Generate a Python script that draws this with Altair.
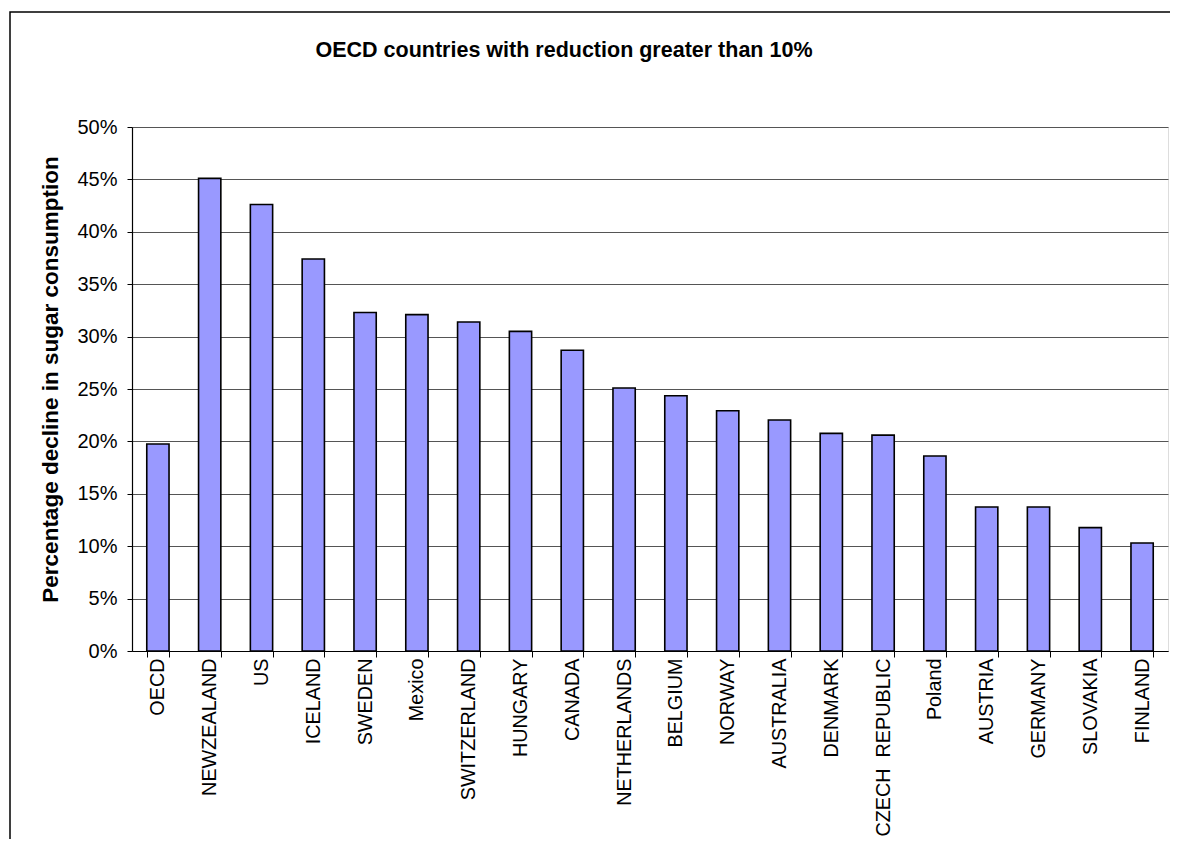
import altair as alt
import pandas as pd

countries = ["OECD", "NEWZEALAND", "US", "ICELAND", "SWEDEN", "Mexico", "SWITZERLAND",
             "HUNGARY", "CANADA", "NETHERLANDS", "BELGIUM", "NORWAY", "AUSTRALIA",
             "DENMARK", "CZECH\u00a0 REPUBLIC", "Poland", "AUSTRIA", "GERMANY",
             "SLOVAKIA", "FINLAND"]
decline = [0.1975, 0.451, 0.426, 0.374, 0.323, 0.321, 0.314, 0.305, 0.287, 0.251,
           0.2436, 0.2293, 0.2204, 0.2077, 0.206, 0.186, 0.1374, 0.1374, 0.1177, 0.103]
y_ticks = [0.0, 0.05, 0.10, 0.15, 0.20, 0.25, 0.30, 0.35, 0.40, 0.45, 0.50]

df = pd.DataFrame({"country": countries, "decline": decline})

FONT = "Liberation Sans"

bars = alt.Chart(df).mark_bar(
    fill="#9999FF", stroke="#000000", strokeWidth=1.6
).encode(
    x=alt.X("country:N", sort=countries,
            scale=alt.Scale(paddingInner=0.57, paddingOuter=0.285),
            axis=alt.Axis(title=None, labelAngle=270, labelFontSize=19.8, labelFont=FONT,
                          labelColor="#000000", labelPadding=1, tickSize=6,
                          tickColor="#000000", domainColor="#000000", domainWidth=1.2,
                          tickBand="extent", grid=False, labelOverlap=False,
                          labelLimit=400)),
    y=alt.Y("decline:Q",
            scale=alt.Scale(domain=[0, 0.5], nice=False),
            axis=alt.Axis(title="Percentage decline in sugar consumption",
                          values=y_ticks, format=".0%", labelFontSize=20, labelFont=FONT,
                          labelColor="#000000", labelPadding=10, tickSize=5,
                          tickColor="#000000", domainColor="#000000", domainWidth=1.2,
                          grid=True, gridColor="#555555", gridWidth=1,
                          titleFont=FONT, titleFontSize=22.5, titleFontWeight="bold",
                          titleColor="#000000", titleX=-82, titleY=252,
                          titleAngle=270, titleAlign="center", titleBaseline="middle")),
)

frame = alt.Chart(alt.Data(values=[{}])).mark_rect(
    fill="transparent", stroke="#000000", strokeWidth=1.5
).encode(
    x=alt.value(-122), x2=alt.value(1070), y=alt.value(-115), y2=alt.value(760)
)

chart = alt.layer(frame, bars).properties(
    width=1036,
    height=524,
    title=alt.TitleParams(
        "OECD countries with reduction greater than 10%",
        font=FONT, fontSize=21.5, fontWeight="bold", color="#000000",
        anchor="middle", frame="group", dx=-86, offset=0, dy=67,
        baseline="alphabetic"),
    autosize=alt.AutoSizeParams(type="none"),
    padding={"left": 124, "top": 119, "right": 2, "bottom": 188},
).configure_view(
    fill="#C0C0C0", stroke="#808080", strokeWidth=1.5
).configure(background="#FFFFFF")

chart.save("out.html", embed_options={"renderer": "svg", "actions": False})
